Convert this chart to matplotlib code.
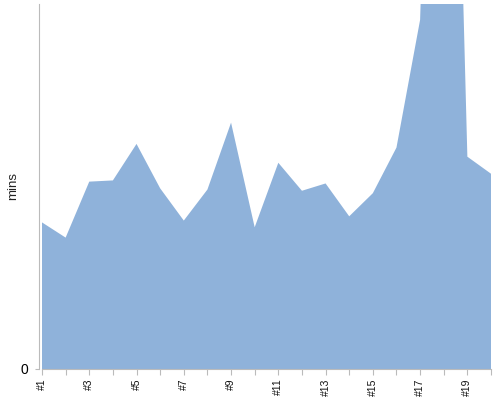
import matplotlib
matplotlib.use("Agg")
import matplotlib.pyplot as plt

plt.rcParams['font.family'] = ['Liberation Sans', 'DejaVu Sans']

# runs #1 .. #20, minutes
runs = ["#%d" % i for i in range(1, 21)]
mins = [24.1, 21.6, 30.8, 31.0, 37.0, 29.7, 24.4, 29.5, 40.5, 23.3,
        33.9, 29.3, 30.5, 25.1, 28.9, 36.4, 57.4, 182.0, 34.9, 32.1]
ymax = 60

x = list(range(len(runs)))

fig = plt.figure(figsize=(5, 4), dpi=100)
ax = fig.add_axes([0.084, 0.0775, 0.898, 0.9125])

ax.fill_between(x, 0, mins, color='#8fb2da', linewidth=0)

ax.set_xlim(0, len(runs) - 1)
ax.set_ylim(0, ymax)

ax.set_xticks(x)
ax.set_xticklabels([r if i % 2 == 0 else "" for i, r in enumerate(runs)],
                   rotation=90, fontsize=7.5, va='top', color='#111111')
ax.set_yticks([0])
ax.set_yticklabels(["0"], fontsize=9, color='#555555')
ax.set_ylabel("mins", fontsize=9.5, color='#222222')
ax.yaxis.set_label_coords(-0.051, 0.5)

for s in ['top', 'right']:
    ax.spines[s].set_visible(False)
ax.spines['left'].set_position(('outward', 2))
ax.spines['left'].set_color('#bbbbbb')
ax.spines['bottom'].set_color('#bbbbbb')
ax.tick_params(axis='x', length=4, color='#bbbbbb', pad=3)
ax.tick_params(axis='y', length=3, color='#bbbbbb', pad=5)

fig.savefig("out.png", dpi=100)
